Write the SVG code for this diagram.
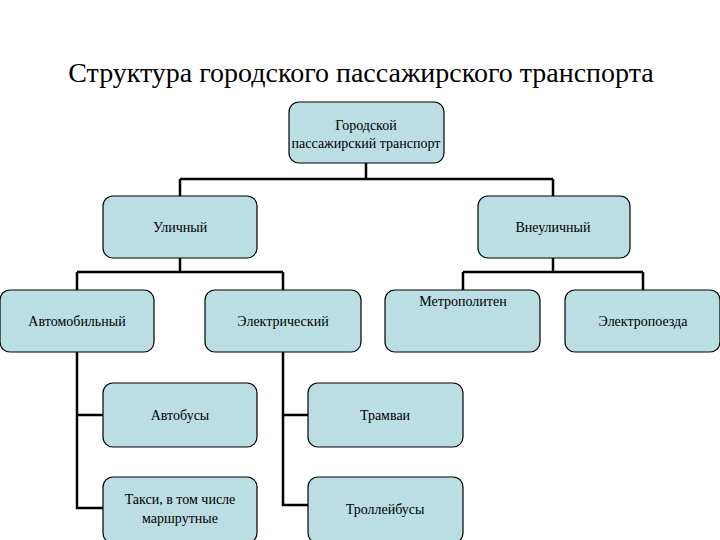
<svg xmlns="http://www.w3.org/2000/svg" width="720" height="540" viewBox="0 0 720 540">
<style>
.n{fill:#badee2;stroke:#000;stroke-width:1.2}
.c{fill:none;stroke:#000;stroke-width:2.5}
.t{font-family:'Liberation Serif','Times New Roman',serif;font-size:14px;text-anchor:middle;fill:#000}
</style>
<rect width="720" height="540" fill="#fff"/>
<text x="361" y="82" style="font-family:'Liberation Serif','Times New Roman',serif" font-size="28" text-anchor="middle">Структура городского пассажирского транспорта</text>
<g id="connectors">
<path class="c" d="M366 163V179M180 179H553M180 179V196M553 179V196"/>
<path class="c" d="M180 258V272M77 272H283M77 272V290M283 272V290"/>
<path class="c" d="M553 258V272M463 272H643M463 272V290M643 272V290"/>
<path class="c" d="M77 352V508H103M77 415H103"/>
<path class="c" d="M283 352V505H308M283 415H308"/>
</g>
<g id="n-root"><rect class="n" x="289" y="102" width="155" height="61" rx="10"/><text class="t" x="366" y="130">Городской</text><text class="t" x="366" y="148">пассажирский транспорт</text></g>
<g id="n-street"><rect class="n" x="103" y="196" width="154" height="62" rx="10"/><text class="t" x="180" y="232">Уличный</text></g>
<g id="n-offstreet"><rect class="n" x="478" y="196" width="152" height="62" rx="10"/><text class="t" x="553" y="232">Внеуличный</text></g>
<g id="n-auto"><rect class="n" x="0" y="290" width="154" height="62" rx="10"/><text class="t" x="77" y="326">Автомобильный</text></g>
<g id="n-electric"><rect class="n" x="205" y="290" width="156" height="62" rx="10"/><text class="t" x="283" y="326">Электрический</text></g>
<g id="n-metro"><rect class="n" x="385" y="290" width="155" height="62" rx="10"/><text class="t" x="463" y="306">Метрополитен</text></g>
<g id="n-train"><rect class="n" x="565" y="290" width="155" height="62" rx="10"/><text class="t" x="643" y="326">Электропоезда</text></g>
<g id="n-bus"><rect class="n" x="103" y="383" width="154" height="64" rx="10"/><text class="t" x="180" y="420">Автобусы</text></g>
<g id="n-tram"><rect class="n" x="308" y="383" width="155" height="64" rx="10"/><text class="t" x="385" y="420">Трамваи</text></g>
<g id="n-taxi"><rect class="n" x="103" y="477" width="154" height="66" rx="10"/><text class="t" x="180" y="504">Такси, в том числе</text><text class="t" x="180" y="523">маршрутные</text></g>
<g id="n-trolley"><rect class="n" x="308" y="477" width="155" height="66" rx="10"/><text class="t" x="385" y="514">Троллейбусы</text></g>
</svg>
